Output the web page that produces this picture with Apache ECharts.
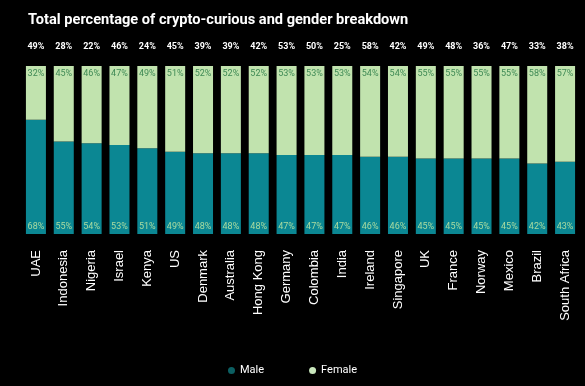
<!DOCTYPE html>
<html><head><meta charset="utf-8">
<script src="https://cdn.jsdelivr.net/npm/echarts@6/dist/echarts.min.js"></script>
<style>html,body{margin:0;padding:0;background:#000;}#c{width:585px;height:386px;}</style>
</head><body><div id="c"></div>
<script>
const categories = ["UAE","Indonesia","Nigeria","Israel","Kenya","US","Denmark","Australia","Hong Kong","Germany","Colombia","India","Ireland","Singapore","UK","France","Norway","Mexico","Brazil","South Africa"];
const totals = [49,28,22,46,24,45,39,39,42,53,50,25,58,42,49,48,36,47,33,38];
const male = [68,55,54,53,51,49,48,48,48,47,47,47,46,46,45,45,45,45,42,43];
const female = [32,45,46,47,49,51,52,52,52,53,53,53,54,54,55,55,55,55,58,57];

const chart = echarts.init(document.getElementById('c'));
chart.setOption({
  backgroundColor: '#000',
  animation: false,
  title: {
    text: 'Total percentage of crypto-curious and gender breakdown',
    left: 23, top: 8,
    textStyle: {color: '#fff', fontSize: 14.6, fontWeight: 'bold', fontFamily: 'Roboto'}
  },
  legend: {
    data: [{name: 'Male', itemStyle: {color: '#0c5f62'}}, {name: 'Female', itemStyle: {color: '#c8e6bc'}}],
    bottom: 5, left: 'center',
    icon: 'circle', itemWidth: 7, itemHeight: 7, itemGap: 45,
    textStyle: {color: '#fff', fontSize: 11, fontFamily: 'Roboto'}
  },
  grid: {left: 22, right: 6, top: 66, bottom: 152},
  xAxis: [{
    type: 'category', data: categories, position: 'bottom',
    axisLine: {show: false}, axisTick: {show: false},
    axisLabel: {color: '#fff', rotate: 90, fontSize: 13, margin: 16, interval: 0, fontFamily: 'Liberation Sans'}
  },{
    type: 'category', data: totals.map(v => v + '%'), position: 'top',
    axisLine: {show: false}, axisTick: {show: false},
    axisLabel: {color: '#fff', fontSize: 9, margin: 15, interval: 0, fontFamily: 'Roboto', fontWeight: 'bold'}
  }],
  yAxis: {type: 'value', min: 0, max: 100, show: false},
  series: [{
    name: 'Male', type: 'bar', stack: 'g', data: male, barWidth: 20,
    itemStyle: {color: '#0b8793'},
    label: {show: true, position: 'insideBottom', distance: 3, formatter: '{c}%', color: '#a9dba0', fontSize: 9, fontFamily: 'Roboto'}
  },{
    name: 'Female', type: 'bar', stack: 'g', data: female, barWidth: 20,
    itemStyle: {color: '#c1e3ae'},
    label: {show: true, position: 'insideTop', distance: 3, formatter: '{c}%', color: '#3f8a55', fontSize: 9, fontFamily: 'Roboto'}
  }]
});
</script></body></html>
